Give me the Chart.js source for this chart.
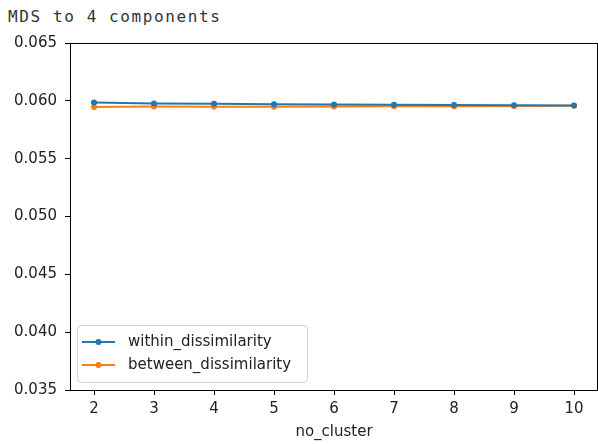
<!DOCTYPE html>
<html>
<head>
<meta charset="utf-8">
<script src="https://cdn.jsdelivr.net/npm/chart.js@4"></script>
<style>
  html, body { margin: 0; padding: 0; background: #fff; }
  #wrap { position: relative; width: 598px; height: 444px; }
  #caption {
    position: absolute; left: 8px; top: 7px;
    font-family: "DejaVu Sans Mono", monospace; font-size: 16px;
    letter-spacing: 1.6px; color: #333; white-space: pre;
  }
  #chart { position: absolute; left: 0; top: 0; }
</style>
</head>
<body>
<div id="wrap">
  <div id="caption">MDS to 4 components</div>
  <canvas id="chart" width="598" height="444"></canvas>
</div>
<script>
const clusters = [2, 3, 4, 5, 6, 7, 8, 9, 10];
const withinDissimilarity = [0.05985, 0.05978, 0.05974, 0.05971, 0.05968, 0.05966, 0.05963, 0.05961, 0.05959];
const betweenDissimilarity = [0.05946, 0.05952, 0.05948, 0.05948, 0.05952, 0.05953, 0.05954, 0.05955, 0.05957];
const yTicks = [0.035, 0.040, 0.045, 0.050, 0.055, 0.060, 0.065];

const BLUE = '#1f77b4';
const ORANGE = '#ff7f0e';
const FONT = '"DejaVu Sans", sans-serif';

function toPoints(values) {
    return clusters.map((c, i) => ({ x: c, y: values[i] }));
}

// box around the plot area
const frame = {
    id: 'frame',
    afterDraw(chart) {
        const { ctx, chartArea: a } = chart;
        ctx.save();
        ctx.strokeStyle = '#000';
        ctx.lineWidth = 1;
        ctx.strokeRect(a.left + 0.5, a.top + 0.5, a.right - a.left - 1, a.bottom - a.top);
        ctx.restore();
    }
};

// legend in the lower left corner, line + dot per series
const cornerLegend = {
    id: 'cornerLegend',
    afterDatasetsDraw(chart) {
        const ctx = chart.ctx;
        const left = 77, top = 325, w = 230, h = 57;
        ctx.save();
        ctx.beginPath();
        ctx.roundRect(left + 0.5, top + 0.5, w, h, 4);
        ctx.fillStyle = 'rgba(255,255,255,0.8)';
        ctx.fill();
        ctx.strokeStyle = '#d0d0d0';
        ctx.lineWidth = 1;
        ctx.stroke();

        chart.data.datasets.forEach((ds, i) => {
            const y = top + 17 + i * 23;
            ctx.strokeStyle = ds.borderColor;
            ctx.lineWidth = 2;
            ctx.beginPath();
            ctx.moveTo(82, y);
            ctx.lineTo(115, y);
            ctx.stroke();
            ctx.fillStyle = ds.borderColor;
            ctx.beginPath();
            ctx.arc(98.5, y, 3, 0, Math.PI * 2);
            ctx.fill();
            ctx.fillStyle = '#222';
            ctx.font = '15px ' + FONT;
            ctx.textBaseline = 'middle';
            ctx.fillText(ds.label, 128, y);
        });
        ctx.restore();
    }
};

new Chart(document.getElementById('chart').getContext('2d'), {
    type: 'line',
    data: {
        datasets: [{
            label: 'within_dissimilarity',
            data: toPoints(withinDissimilarity),
            borderColor: BLUE,
            backgroundColor: BLUE,
            borderWidth: 2,
            pointRadius: 3,
            pointBorderWidth: 0,
            tension: 0
        }, {
            label: 'between_dissimilarity',
            data: toPoints(betweenDissimilarity),
            borderColor: ORANGE,
            backgroundColor: ORANGE,
            borderWidth: 2,
            pointRadius: 3,
            pointBorderWidth: 0,
            tension: 0
        }]
    },
    options: {
        responsive: false,
        animation: false,
        layout: { autoPadding: false, padding: { left: 0, right: 0, top: 43, bottom: 0 } },
        plugins: {
            legend: { display: false },
            tooltip: { enabled: false }
        },
        scales: {
            x: {
                type: 'linear',
                min: 1.6,
                max: 10.4,
                afterBuildTicks: (scale) => { scale.ticks = clusters.map(v => ({ value: v })); },
                afterFit: (scale) => { scale.height = 54; },
                grid: { drawOnChartArea: false, drawTicks: true, tickLength: 5, color: '#000' },
                border: { display: false },
                ticks: {
                    color: '#222',
                    font: { family: FONT, size: 15 },
                    padding: 5,
                    maxRotation: 0,
                    callback: (v) => String(v)
                },
                title: {
                    display: true,
                    text: 'no_cluster',
                    color: '#222',
                    font: { family: FONT, size: 15 },
                    padding: { top: 0, bottom: 3 }
                }
            },
            y: {
                min: yTicks[0],
                max: yTicks[yTicks.length - 1],
                afterBuildTicks: (scale) => { scale.ticks = yTicks.map(v => ({ value: v })); },
                afterFit: (scale) => { scale.width = 70; },
                grid: { drawOnChartArea: false, drawTicks: true, tickLength: 5, color: '#000' },
                border: { display: false },
                ticks: {
                    color: '#222',
                    font: { family: FONT, size: 15 },
                    padding: 8,
                    callback: (v) => v.toFixed(3)
                }
            }
        }
    },
    plugins: [frame, cornerLegend]
});
</script>
</body>
</html>
